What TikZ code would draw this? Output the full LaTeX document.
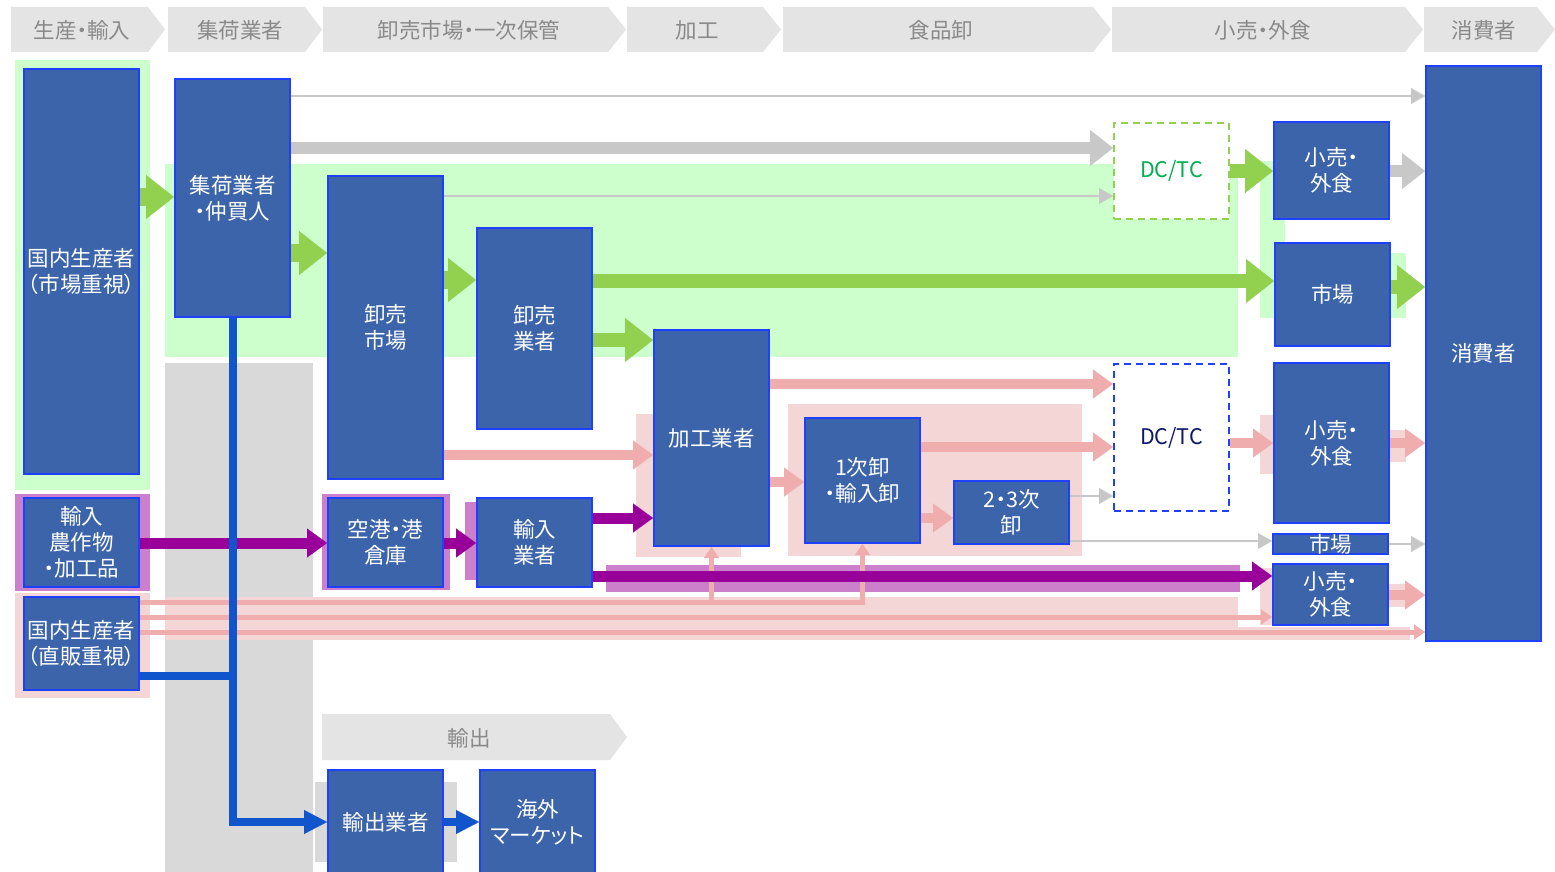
\documentclass[tikz,border=0pt]{standalone}
\usepackage{fontspec}
\setmainfont{Noto Sans CJK JP}[RawFeature=+palt]
\usetikzlibrary{arrows.meta}
\definecolor{nodefill}{HTML}{3C64AA}
\definecolor{nodeline}{HTML}{2040FF}
\definecolor{hdrfill}{HTML}{E4E4E4}
\definecolor{hdrtext}{HTML}{8A8A8A}
\definecolor{bggreen}{HTML}{CCFFCC}
\definecolor{argreen}{HTML}{92D050}
\definecolor{argray}{HTML}{C8C8C8}
\definecolor{bggray}{HTML}{D9D9D9}
\definecolor{bgpink}{HTML}{F5D6D6}
\definecolor{arpink}{HTML}{EFADAD}
\definecolor{arpurple}{HTML}{990099}
\definecolor{bgpurple}{HTML}{CC80CC}
\definecolor{arblue}{HTML}{1155CC}
\definecolor{dcgreen}{HTML}{00B050}
\definecolor{dcnavy}{HTML}{0D1A66}
\pgfdeclarelayer{bg}
\pgfdeclarelayer{arr}
\pgfsetlayers{bg,arr,main}
\tikzset{
  box/.style={draw=nodeline, line width=2pt, fill=nodefill, text=white,
    font=\fontsize{21.5}{26}\selectfont, align=center, inner sep=0pt, minimum width=115pt},
  dcbox/.style={line width=2pt, dash pattern=on 7pt off 5pt, fill=white,
    font=\fontsize{21.5}{26}\selectfont, inner sep=0pt, minimum width=115pt},
  hdr/.style={fill=hdrfill},
  hdrlabel/.style={text=hdrtext, font=\fontsize{21.5}{26}\selectfont, inner sep=0pt},
  gA/.style={draw=argreen, line width=18pt, -{Triangle[length=28pt,width=44pt,line width=0.1pt]}},
  gB/.style={draw=argreen, line width=14pt, -{Triangle[length=28pt,width=44pt,line width=0.1pt]}},
  grK/.style={draw=argray, line width=12pt, -{Triangle[length=23pt,width=36pt,line width=0.1pt]}},
  grT/.style={draw=argray, line width=2.5pt, -{Triangle[length=14pt,width=16pt,line width=0.1pt]}},
  pA/.style={draw=arpink, line width=10pt, -{Triangle[length=20pt,width=29pt,line width=0.1pt]}},
  pT/.style={draw=arpink, line width=5pt, -{Triangle[length=11pt,width=15pt,line width=0.1pt]}},
  puA/.style={draw=arpurple, line width=11pt, -{Triangle[length=20pt,width=29pt,line width=0.1pt]}},
  blA/.style={draw=arblue, line width=8pt, -{Triangle[length=23pt,width=24pt,line width=0.1pt]}},
  blL/.style={draw=arblue, line width=8pt},
}
\begin{document}
\begin{tikzpicture}[x=1pt,y=-1pt]
\useasboundingbox (0,0) rectangle (1555,872);

% ---------- backgrounds ----------
\begin{pgfonlayer}{bg}
\fill[white] (0,0) rectangle (1555,872);
\fill[bggreen] (15,60) rectangle (150,490);
\fill[bggreen] (165,164) rectangle (1238,357);
\fill[bggreen] (1260,161) rectangle (1285,318);
\fill[bggreen] (1389,253) rectangle (1406,318);
\fill[bggray] (165,363) rectangle (313,872);
\fill[bgpurple] (15,494) rectangle (150,591);
\fill[bgpurple] (322,494) rectangle (450,590);
\fill[bgpurple] (465,502) rectangle (480,580);
\fill[bgpink] (15,593) rectangle (150,698);
\fill[bgpink] (636,414) rectangle (741,557);
\fill[bgpink] (788,404) rectangle (1082,556);
\fill[bgpurple] (606,565) rectangle (1240,592);
\fill[bgpink] (165,597) rectangle (1238,640);
\fill[bgpink] (1238,627) rectangle (1410,640);
\fill[bgpink] (1260,568) rectangle (1276,625);
\fill[bgpink] (1388,584) rectangle (1406,607);
\fill[bgpink] (1260,415) rectangle (1276,474);
\fill[bgpink] (1389,430) rectangle (1406,462);
\fill[bggray] (315,782) rectangle (457,862);
% header chevrons
\fill[hdr] (11,7) -- (148,7) -- (165,29.5) -- (148,52) -- (11,52) -- cycle;
\fill[hdr] (168,7) -- (305,7) -- (322,29.5) -- (305,52) -- (168,52) -- cycle;
\fill[hdr] (323,7) -- (608,7) -- (626,29.5) -- (608,52) -- (323,52) -- cycle;
\fill[hdr] (627,7) -- (763,7) -- (781,29.5) -- (763,52) -- (627,52) -- cycle;
\fill[hdr] (783,7) -- (1093,7) -- (1111,29.5) -- (1093,52) -- (783,52) -- cycle;
\fill[hdr] (1112,7) -- (1405,7) -- (1423,29.5) -- (1405,52) -- (1112,52) -- cycle;
\fill[hdr] (1424,7) -- (1537,7) -- (1555,29.5) -- (1537,52) -- (1424,52) -- cycle;
\fill[hdr] (322,714) -- (610,714) -- (627,737) -- (610,760) -- (322,760) -- cycle;
\end{pgfonlayer}

% ---------- header labels ----------
\node[hdrlabel] (h1) at (82,30) {生産・輸入};
\node[hdrlabel] (h2) at (240,30) {集荷業者};
\node[hdrlabel] (h3) at (469,30) {卸売市場・一次保管};
\node[hdrlabel] (h4) at (697,30) {加工};
\node[hdrlabel] (h5) at (941,30) {食品卸};
\node[hdrlabel] (h6) at (1263,30) {小売・外食};
\node[hdrlabel] (h7) at (1484,30) {消費者};
\node[hdrlabel] (h8) at (469,738) {輸出};

% ---------- nodes ----------
\node[box, minimum height=405pt] (dom1) at (81.5,271.5) {国内生産者\\（市場重視）};
\node[box, minimum height=238pt] (shuka) at (232.5,198) {集荷業者\\・仲買人};
\node[box, minimum height=303pt] (oroshiichi) at (385.5,327.5) {卸売\\市場};
\node[box, minimum height=201pt] (oroshigyo) at (534.5,328.5) {卸売\\業者};
\node[box, minimum height=216pt] (kakou) at (711.5,438) {加工業者};
\node[box, minimum height=125pt] (ichiji) at (862.5,480.5) {1次卸\\・輸入卸};
\node[box, minimum height=63pt] (niji) at (1011.5,512.5) {2・3次\\卸};
\node[dcbox, draw=argreen, text=dcgreen, minimum height=96pt] (dcg) at (1171.5,171) {DC/TC};
\node[dcbox, draw=nodeline, text=dcnavy, minimum height=147pt] (dcb) at (1171.5,437.5) {DC/TC};
\node[box, minimum height=97pt] (kouri1) at (1331.5,170.5) {小売・\\外食};
\node[box, minimum height=103pt] (shijo1) at (1332.5,294.5) {市場};
\node[box, minimum height=160pt] (kouri2) at (1331.5,443) {小売・\\外食};
\node[box, minimum height=20pt] (shijo2) at (1330.5,544) {市場};
\node[box, minimum height=61pt] (kouri3) at (1330.5,594.5) {小売・\\外食};
\node[box, minimum height=575pt] (consumer) at (1483.5,353.5) {消費者};
\node[box, minimum height=89pt] (yunyuu) at (81.5,542.5) {輸入\\農作物\\・加工品};
\node[box, minimum height=89pt] (kuukou) at (385.5,542.5) {空港・港\\倉庫};
\node[box, minimum height=89pt] (yunyuugyo) at (534.5,542.5) {輸入\\業者};
\node[box, minimum height=93pt] (dom2) at (81.5,643.5) {国内生産者\\（直販重視）};
\node[box, minimum height=104pt] (yushutsu) at (385.5,822) {輸出業者};
\node[box, minimum height=104pt] (kaigai) at (537.5,822) {海外\\マーケット};

% ---------- connectors ----------
\begin{pgfonlayer}{arr}
% gray
\draw[grT] (shuka.east |- 0,96) -- (consumer.west |- 0,96);
\draw[grK] (shuka.east |- 0,148) -- (dcg.west |- 0,148);
\draw[grT] (oroshiichi.east |- 0,196) -- (dcg.west |- 0,196);
\draw[grK] (kouri1.east |- 0,171) -- (consumer.west |- 0,171);
\draw[grT] (niji.east |- 0,496) -- (dcb.west |- 0,496);
\draw[grT] (niji.east |- 0,541) -- (shijo2.west |- 0,541);
\draw[grT] (shijo2.east |- 0,544) -- (consumer.west |- 0,544);
% green
\draw[gA] (dom1.east |- 0,197) -- (shuka.west |- 0,197);
\draw[gA] (shuka.east |- 0,253) -- (oroshiichi.west |- 0,253);
\draw[gA] (oroshiichi.east |- 0,280) -- (oroshigyo.west |- 0,280);
\draw[gB] (oroshigyo.east |- 0,281) -- (shijo1.west |- 0,281);
\draw[gB] (oroshigyo.east |- 0,340) -- (kakou.west |- 0,340);
\draw[gB] (dcg.east |- 0,171) -- (kouri1.west |- 0,171);
\draw[gB] (shijo1.east |- 0,287) -- (consumer.west |- 0,287);
% pink
\draw[pA] (kakou.east |- 0,384) -- (dcb.west |- 0,384);
\draw[pA] (ichiji.east |- 0,447) -- (dcb.west |- 0,447);
\draw[pA] (kakou.east |- 0,482) -- (ichiji.west |- 0,482);
\draw[pA] (ichiji.east |- 0,518) -- (niji.west |- 0,518);
\draw[pA] (oroshiichi.east |- 0,455) -- (kakou.west |- 0,455);
\draw[pA] (dcb.east |- 0,443) -- (kouri2.west |- 0,443);
\draw[pA] (kouri2.east |- 0,443) -- (consumer.west |- 0,443);
\draw[pA] (kouri3.east |- 0,595) -- (consumer.west |- 0,595);
\draw[pT] (dom2.east |- 0,602) -| (ichiji.south);
\draw[pT] (kakou.south |- 0,602) -- (kakou.south);
\draw[pT] (dom2.east |- 0,617) -- (kouri3.west |- 0,617);
\draw[pT] (dom2.east |- 0,632) -- (consumer.west |- 0,632);
% purple
\draw[puA] (yunyuu.east |- 0,543) -- (kuukou.west |- 0,543);
\draw[puA] (kuukou.east |- 0,543) -- (yunyuugyo.west |- 0,543);
\draw[puA] (yunyuugyo.east |- 0,518) -- (kakou.west |- 0,518);
\draw[puA] (yunyuugyo.east |- 0,576) -- (kouri3.west |- 0,576);
% blue
\draw[blL] (dom2.east |- 0,676) -- (shuka.south |- 0,676);
\draw[blA] (shuka.south) |- (yushutsu.west);
\draw[blA] (yushutsu.east) -- (kaigai.west);
\end{pgfonlayer}
\end{tikzpicture}
\end{document}
